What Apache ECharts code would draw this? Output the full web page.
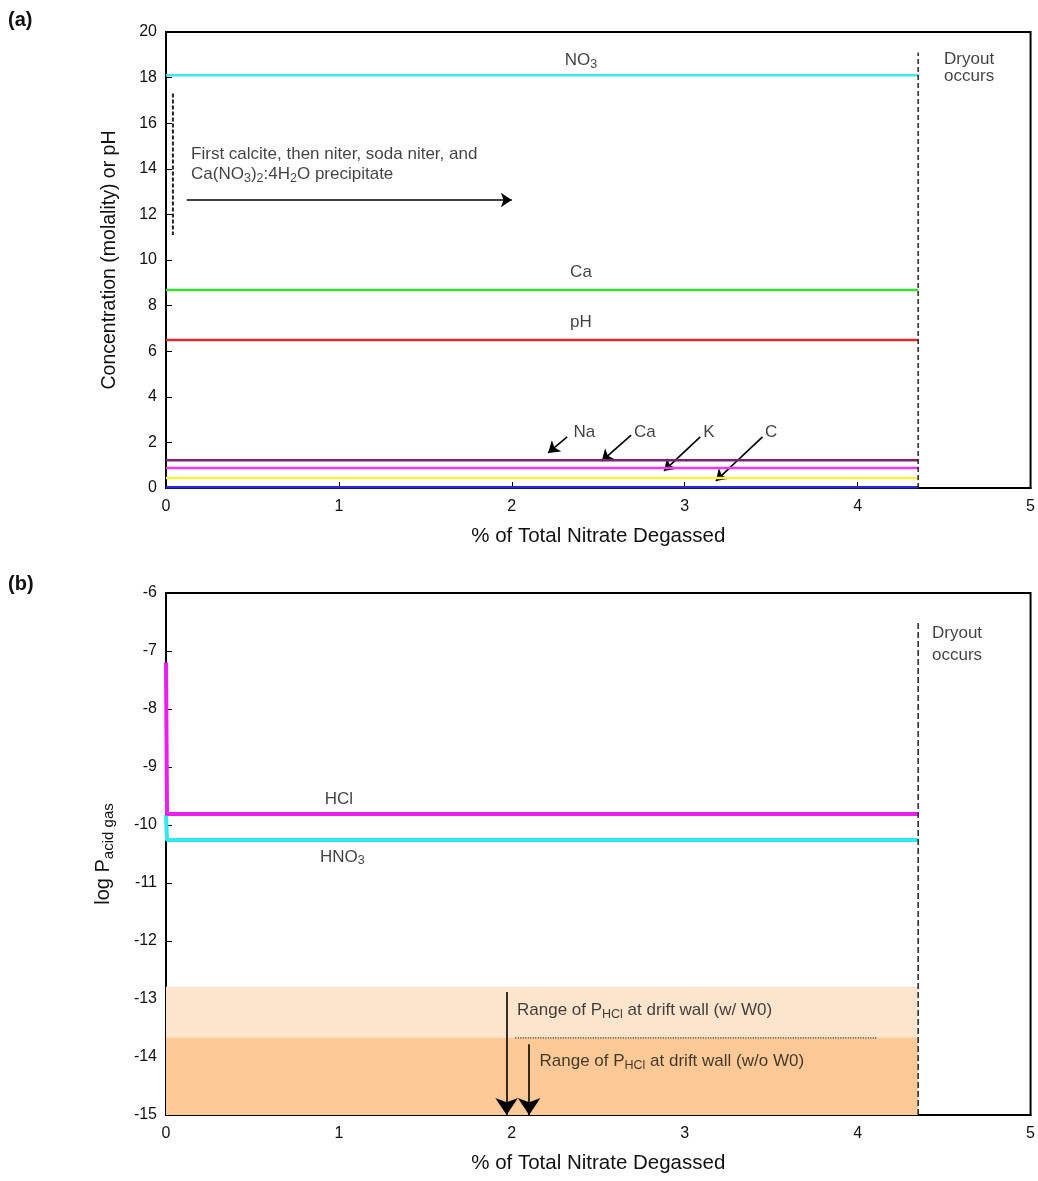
<!DOCTYPE html>
<html>
<head>
<meta charset="utf-8">
<script src="https://cdn.jsdelivr.net/npm/echarts@6/dist/echarts.min.js"></script>
<style>
  html, body { margin: 0; padding: 0; background: #fff; }
  #chart { width: 1038px; height: 1181px; }
</style>
</head>
<body>
<div id="chart"></div>
<script>
// ---- data, panel (a) ----
const xTicks = [0, 1, 2, 3, 4, 5];
const dryoutX = 4.35;
const concSeries = [
    { name: 'NO3', value: 18.1, color: '#3ee8e8' },
    { name: 'Ca', value: 8.68, color: '#33dd33' },
    { name: 'pH', value: 6.49, color: '#dd2a2a' },
    { name: 'Na', value: 1.22, color: '#7a1f7a' },
    { name: 'K', value: 0.88, color: '#ee3aee' },
    { name: 'C', value: 0.44, color: '#f4f244' },
    { name: 'Cl', value: 0.03, color: '#2a2ad8' }
];
const precipBar = [[0.04, 17.3], [0.04, 11.1]];
const precipArrow = [[0.12, 12.63], [2.0, 12.63]];
const dryoutA = [[dryoutX, 0], [dryoutX, 19.1]];
const ionArrows = [
    [[2.32, 2.24], [2.21, 1.54]],
    [[2.69, 2.32], [2.52, 1.18]],
    [[3.09, 2.24], [2.88, 0.75]],
    [[3.45, 2.24], [3.18, 0.31]]
];
const labelsA = [
    { text: '{n|NO}{s|3}', at: [2.4, 18.75], align: 'center' },
    { text: 'Ca', at: [2.4, 9.45], align: 'center' },
    { text: 'pH', at: [2.4, 7.25], align: 'center' },
    { text: 'Na', at: [2.42, 2.45], align: 'center' },
    { text: 'Ca', at: [2.77, 2.45], align: 'center' },
    { text: 'K', at: [3.14, 2.45], align: 'center' },
    { text: 'C', at: [3.5, 2.45], align: 'center' },
    { text: 'First calcite, then niter, soda niter, and', at: [0.145, 14.65], align: 'left' },
    { text: 'Ca(NO{s|3}){s|2}:4H{s|2}O precipitate', at: [0.145, 13.75], align: 'left' },
    { text: 'Dryout', at: [4.5, 18.8], align: 'left' },
    { text: 'occurs', at: [4.5, 18.05], align: 'left' }
];

// ---- data, panel (b) ----
const hclLine = [[0, -7.2], [0.006, -9.81], [dryoutX, -9.81]];
const hno3Line = [[0, -9.83], [0.006, -10.26], [dryoutX, -10.26]];
const bandWithW0 = [-12.79, -15];
const bandWithoutW0 = [-13.67, -15];
const dryoutB = [[dryoutX, -15], [dryoutX, -6.47]];
const dottedSep = [[2.02, -13.67], [4.11, -13.67]];
const rangeArrows = [
    [[1.97, -12.88], [1.97, -15]],
    [[2.1, -13.78], [2.1, -15]]
];
const labelsB = [
    { text: 'HCl', at: [1.0, -9.55], align: 'center' },
    { text: 'HNO{s|3}', at: [1.02, -10.55], align: 'center' },
    { text: 'Dryout', at: [4.43, -6.7], align: 'left' },
    { text: 'occurs', at: [4.43, -7.07], align: 'left' },
    { text: 'Range of P{s|HCl} at drift wall (w/ W0)', at: [2.03, -13.2], align: 'left' },
    { text: 'Range of P{s|HCl} at drift wall (w/o W0)', at: [2.16, -14.08], align: 'left' }
];

const FONT = 'Liberation Sans, Arial, sans-serif';
const INK = '#111';
const rich = {
    n: { fontSize: 17, fontFamily: FONT, color: INK },
    s: { fontSize: 12.5, fontFamily: FONT, color: INK, verticalAlign: 'bottom', padding: [8, 0, 0, 0] }
};

const chart = echarts.init(document.getElementById('chart'));

function xAxisFor(grid) {
    return {
        type: 'value', gridIndex: grid, min: 0, max: 5, interval: 1,
        name: '% of Total Nitrate Degassed', nameLocation: 'middle', nameGap: 38,
        nameTextStyle: { fontSize: 20.5, fontFamily: FONT, color: INK },
        axisLine: { lineStyle: { color: '#000', width: 2 } },
        axisTick: { inside: true, length: 6, lineStyle: { color: '#000' } },
        axisLabel: { fontSize: 16, fontFamily: FONT, color: INK, margin: 11 },
        splitLine: { show: false }
    };
}

function labelSeries(list, grid) {
    return {
        type: 'scatter', xAxisIndex: grid, yAxisIndex: grid, symbolSize: 0, silent: true,
        data: list.map(d => ({
            value: d.at,
            label: {
                show: true, formatter: d.text, position: d.align === 'left' ? 'right' : 'inside',
                distance: 0, fontSize: 17, fontFamily: FONT, color: INK, rich: rich,
                textBorderWidth: 0
            }
        }))
    };
}

function plainLine(data, grid, color, width, type) {
    return {
        type: 'line', xAxisIndex: grid, yAxisIndex: grid, data: data,
        symbol: 'none', silent: true,
        lineStyle: { color: color, width: width, type: type || 'solid' }
    };
}

function arrows(list, grid, size, width) {
    return {
        type: 'lines', coordinateSystem: 'cartesian2d', xAxisIndex: grid, yAxisIndex: grid,
        symbol: ['none', 'arrow'], symbolSize: size, silent: true,
        lineStyle: { color: '#000', width: width, opacity: 1, curveness: 0 },
        data: list.map(c => ({ coords: c }))
    };
}

const series = [];
concSeries.slice().reverse().forEach(s => {
    series.push(plainLine([[0, s.value], [dryoutX, s.value]], 0, s.color, 2.5));
});
series.push(plainLine(precipBar, 0, '#222', 2, [4, 2]));
series.push(plainLine(dryoutA, 0, '#222', 1.5, [5, 3]));
series.push(arrows([precipArrow], 0, 11, 1.5));
series.push(arrows(ionArrows, 0, 11, 1.6));
series.push(labelSeries(labelsA, 0));

// panel b
series.push({
    type: 'line', xAxisIndex: 1, yAxisIndex: 1, data: [], silent: true,
    markArea: {
        silent: true,
        data: [
            [{ xAxis: 0, yAxis: bandWithW0[0], itemStyle: { color: '#fde4cd' } }, { xAxis: dryoutX, yAxis: bandWithW0[1] }],
            [{ xAxis: 0, yAxis: bandWithoutW0[0], itemStyle: { color: '#fdca97' } }, { xAxis: dryoutX, yAxis: bandWithoutW0[1] }]
        ]
    }
});
series.push(plainLine(hno3Line, 1, '#33e8ee', 4));
series.push(plainLine(hclLine, 1, '#ee1cee', 4));
series.push(plainLine(dryoutB, 1, '#222', 1.5, [6, 3]));
series.push(plainLine(dottedSep, 1, '#222', 1.2, [1, 1.5]));
series.push(arrows(rangeArrows, 1, 17, 1.6));
series.push(labelSeries(labelsB, 1));

chart.setOption({
    animation: false,
    graphic: [
        { type: 'text', left: 8, top: 10, style: { text: '(a)', fontSize: 20, fontWeight: 'bold', fontFamily: FONT, fill: '#111' } },
        { type: 'text', left: 8, top: 574, style: { text: '(b)', fontSize: 20, fontWeight: 'bold', fontFamily: FONT, fill: '#111' } }
    ],
    grid: [
        { left: 166, right: 5, top: 32, height: 456, show: true, borderColor: '#000', borderWidth: 2 },
        { left: 166, right: 5, top: 593, height: 522, show: true, borderColor: '#000', borderWidth: 2 }
    ],
    xAxis: [xAxisFor(0), xAxisFor(1)],
    yAxis: [{
        type: 'value', gridIndex: 0, min: 0, max: 20, interval: 2,
        name: 'Concentration (molality) or pH', nameLocation: 'middle', nameGap: 46,
        nameTextStyle: { fontSize: 19.5, fontFamily: FONT, color: INK },
        axisLine: { lineStyle: { color: '#000', width: 2 } },
        axisTick: { inside: true, length: 6, lineStyle: { color: '#000' } },
        axisLabel: { fontSize: 16, fontFamily: FONT, color: INK, margin: 9 },
        splitLine: { show: false }
    }, {
        type: 'value', gridIndex: 1, min: -15, max: -6, interval: 1,
        name: '{a|log P}{s|acid gas}', nameLocation: 'middle', nameGap: 50,
        nameTextStyle: {
            fontSize: 20, fontFamily: FONT, color: INK,
            rich: {
                a: { fontSize: 20, fontFamily: FONT, color: INK },
                s: { fontSize: 15, fontFamily: FONT, color: INK, verticalAlign: 'bottom', padding: [10, 0, 0, 0] }
            }
        },
        axisLine: { lineStyle: { color: '#000', width: 2 } },
        axisTick: { inside: true, length: 6, lineStyle: { color: '#000' } },
        axisLabel: { fontSize: 16, fontFamily: FONT, color: INK, margin: 9 },
        splitLine: { show: false }
    }],
    series: series
});
</script>
</body>
</html>
